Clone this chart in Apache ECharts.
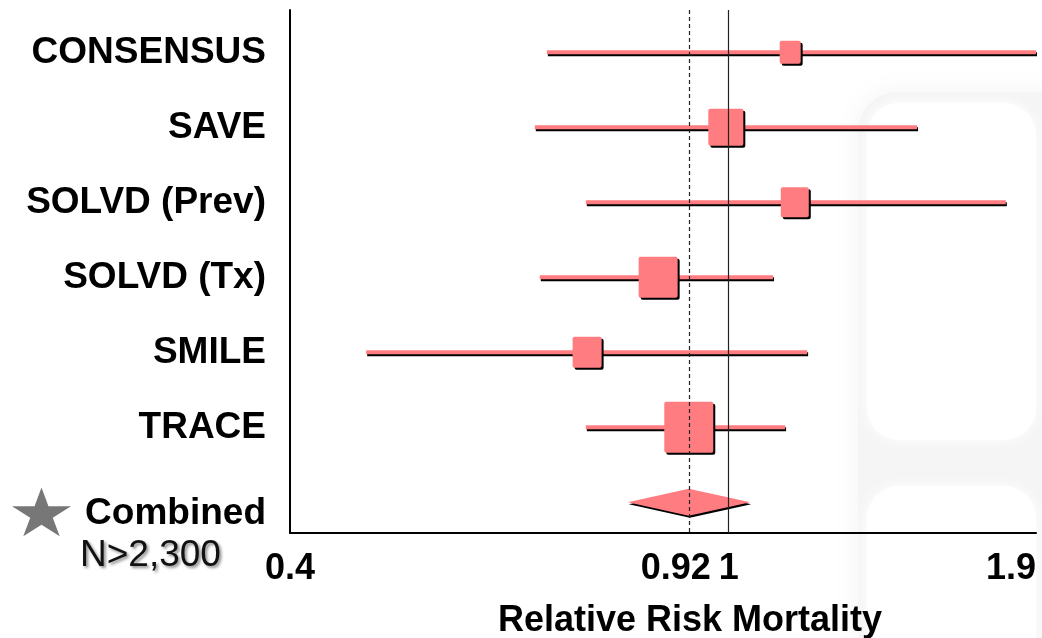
<!DOCTYPE html>
<html>
<head>
<meta charset="utf-8">
<script src="https://cdn.jsdelivr.net/npm/echarts@6/dist/echarts.min.js"></script>
<style>
html,body{margin:0;padding:0;background:#fff;}
#chart{width:1042px;height:638px;}
</style>
</head>
<body>
<div id="chart"></div>
<script>
// ---- data ----
const studies = ['CONSENSUS', 'SAVE', 'SOLVD (Prev)', 'SOLVD (Tx)', 'SMILE', 'TRACE', 'Combined'];
const riskRatio = [1.137, 0.994, 1.148, 0.863, 0.744, 0.920];
const ciLower   = [0.684, 0.667, 0.742, 0.674, 0.469, 0.742];
const ciUpper   = [1.900, 1.482, 1.784, 1.097, 1.178, 1.125];
const studyWeight = [21, 35, 28, 39, 29, 49];
const combinedRR = 0.92;
const combinedLower = 0.81;
const combinedUpper = 1.046;
const combinedN = 'N>2,300';
const xTickValues = [0.4, 0.92, 1, 1.9];
const xTickLabels = ['0.4', '0.92', '1', '1.9'];
const refLines = [0.92, 1];
const xAxisTitle = 'Relative Risk Mortality';

const FONT = "'Liberation Sans', Arial, sans-serif";
const PINK = '#ff7c80';

const rowData = studies.slice(0, riskRatio.length).map((s, i) =>
  [i, ciLower[i], riskRatio[i], ciUpper[i], studyWeight[i]]);
const combinedData = [[studies.length - 1, combinedLower, combinedRR, combinedUpper]];

function renderRow(params, api) {
  const i = api.value(0);
  const pL = api.coord([api.value(1), i]);
  const pC = api.coord([api.value(2), i]);
  const pR = api.coord([api.value(3), i]);
  const w = api.value(4);
  const h = w + 2;
  return {
    type: 'group',
    children: [
      { type: 'line', shape: { x1: pL[0] + 1, y1: pL[1] + 2, x2: pR[0] + 1, y2: pR[1] + 2 },
        style: { stroke: '#000', lineWidth: 4 } },
      { type: 'line', shape: { x1: pL[0], y1: pL[1], x2: pR[0], y2: pR[1] },
        style: { stroke: PINK, lineWidth: 4 } },
      { type: 'rect', shape: { x: pC[0] - w / 2 + 2, y: pC[1] - h / 2 + 2, width: w, height: h, r: 2 },
        style: { fill: '#000' } },
      { type: 'rect', shape: { x: pC[0] - w / 2, y: pC[1] - h / 2, width: w, height: h, r: 2 },
        style: { fill: PINK } }
    ]
  };
}

function renderDiamond(params, api) {
  const i = api.value(0);
  const pL = api.coord([api.value(1), i]);
  const pC = api.coord([api.value(2), i]);
  const pR = api.coord([api.value(3), i]);
  const hh = 13.5;
  const pts = [[pL[0], pL[1]], [pC[0], pC[1] - hh], [pR[0], pR[1]], [pC[0], pC[1] + hh]];
  const shadow = pts.map(p => [p[0] + 1, p[1] + 2]);
  return {
    type: 'group',
    children: [
      { type: 'polygon', shape: { points: shadow }, style: { fill: '#000' } },
      { type: 'polygon', shape: { points: pts }, style: { fill: PINK } }
    ]
  };
}

// star polygon for the "Combined" marker
function starPoints(cx, cy, rx, ry) {
  const pts = [];
  for (let k = 0; k < 10; k++) {
    const ang = -Math.PI / 2 + k * Math.PI / 5;
    const f = k % 2 === 0 ? 1 : 0.382;
    pts.push([cx + Math.cos(ang) * rx * f, cy + Math.sin(ang) * ry * f]);
  }
  return pts;
}

const chart = echarts.init(document.getElementById('chart'));
chart.setOption({
  animation: false,
  backgroundColor: '#fff',
  grid: { left: 290, right: 6, top: 10, bottom: 105, containLabel: false, outerBoundsMode: 'none' },
  xAxis: {
    type: 'log',
    logBase: 10,
    min: 0.4,
    max: 1.9,
    axisLine: { show: true, onZero: false, lineStyle: { color: '#000', width: 2 } },
    axisTick: { show: false },
    splitLine: { show: false },
    axisLabel: {
      customValues: xTickValues,
      margin: 18,
      alignMaxLabel: 'right',
      fontFamily: FONT, fontSize: 36, fontWeight: 'bold', color: '#000',
      formatter: function (v) {
        let best = 0;
        xTickValues.forEach((t, k) => { if (Math.abs(t - v) < Math.abs(xTickValues[best] - v)) best = k; });
        const lab = xTickLabels[best];
        return best === 1 ? '{s|' + lab + '}' : lab;
      },
      rich: { s: { fontFamily: FONT, fontSize: 36, fontWeight: 'bold', color: '#000', padding: [0, 26, 0, 0] } }
    },
    name: xAxisTitle,
    nameLocation: 'middle',
    nameGap: 70,
    nameTextStyle: { fontFamily: FONT, fontSize: 36, fontWeight: 'bold', color: '#000', padding: [0, 0, 0, 54] }
  },
  yAxis: {
    type: 'value',
    inverse: true,
    min: -0.564,
    max: 6.409,
    axisLine: { show: true, onZero: false, lineStyle: { color: '#000', width: 2 } },
    axisTick: { show: false },
    splitLine: { show: false },
    axisLabel: {
      customValues: studies.map((s, i) => i),
      margin: 24,
      fontFamily: FONT, fontSize: 37, fontWeight: 'bold', color: '#000',
      formatter: function (v) {
        const i = Math.round(v);
        return i === studies.length - 1 ? '{c|' + studies[i] + '}' : studies[i];
      },
      rich: { c: { fontFamily: FONT, fontSize: 37, fontWeight: 'bold', color: '#000', padding: [22, 0, 0, 0] } }
    }
  },
  series: [
    {
      type: 'custom',
      renderItem: renderRow,
      data: rowData,
      clip: false,
      z: 3,
      encode: { x: [1, 2, 3], y: 0 },
      markLine: {
        silent: true,
        symbol: 'none',
        label: { show: false },
        data: [
          { xAxis: refLines[0], lineStyle: { color: '#222', width: 1.2, type: [4, 3] } },
          { xAxis: refLines[1], lineStyle: { color: '#222', width: 1.2, type: 'solid' } }
        ]
      }
    },
    {
      type: 'custom',
      renderItem: renderDiamond,
      data: combinedData,
      z: 3,
      encode: { x: [1, 2, 3], y: 0 }
    }
  ],
  graphic: [
    // faint decorative background panels on the right
    { type: 'rect', z: -10, silent: true,
      shape: { x: 858, y: 92, width: 200, height: 560, r: [40, 0, 0, 0] },
      style: { fill: '#f5f5f5', shadowBlur: 30, shadowColor: 'rgba(244,244,244,1)' } },
    { type: 'rect', z: -9, silent: true,
      shape: { x: 867, y: 103, width: 169, height: 337, r: 32 },
      style: { fill: '#ffffff', shadowBlur: 14, shadowColor: '#ffffff' } },
    { type: 'rect', z: -9, silent: true,
      shape: { x: 867, y: 486, width: 169, height: 200, r: 32 },
      style: { fill: '#ffffff', shadowBlur: 14, shadowColor: '#ffffff' } },
    // star marker + N label
    { type: 'polygon', shape: { points: starPoints(41.5, 514.5, 31, 27) }, style: { fill: '#777' } },
    { type: 'text', left: 80, top: 537,
      style: { text: combinedN, font: "37px 'Liberation Sans', Arial, sans-serif", fill: '#111',
               textShadowColor: 'rgba(0,0,0,0.45)', textShadowBlur: 3, textShadowOffsetX: 2, textShadowOffsetY: 2 } }
  ]
});
</script>
</body>
</html>
